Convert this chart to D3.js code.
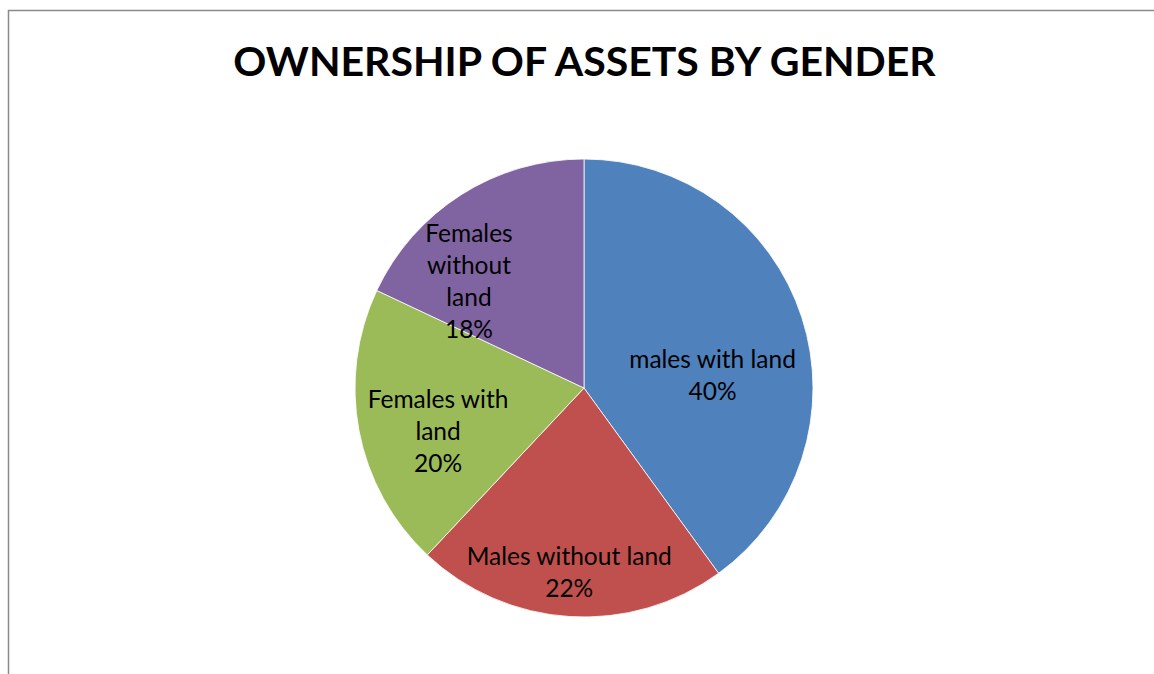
<!DOCTYPE html>
<html>
<head>
<meta charset="utf-8">
<script src="https://cdn.jsdelivr.net/npm/d3@7"></script>
<style>
html,body{margin:0;padding:0;background:#fff;}
svg{display:block;}
</style>
</head>
<body>
<svg id="chart" width="1154" height="674"></svg>
<script>
const title = "OWNERSHIP OF ASSETS BY GENDER";
const categories = ["males with land", "Males without land", "Females with land", "Females without land"];
const values = [40, 22, 20, 18];
const labelLines = [["males with land"], ["Males without land"], ["Females with", "land"], ["Females", "without", "land"]];
const colors = ["#4F81BD", "#C0504D", "#9BBB59", "#8064A2"];

const svg = d3.select("#chart");
const W = 1154, H = 674;

// chart frame
svg.append("rect").attr("x", 8.5).attr("y", 10.5).attr("width", W + 20).attr("height", H + 20)
  .attr("fill", "#fff").attr("stroke", "#8a8a8a").attr("stroke-width", 1.5);

svg.append("text").attr("x", 584.5).attr("y", 76)
  .attr("text-anchor", "middle")
  .attr("font-family", "Lato, 'Open Sans', sans-serif")
  .attr("font-weight", "bold").attr("font-size", 41)
  .attr("fill", "#000").text(title);

const cx = 584, cy = 388, R = 229;
const pie = d3.pie().sort(null).value(d => d);
const arcs = pie(values);
const arc = d3.arc().innerRadius(0).outerRadius(R);
const labelArc = d3.arc().innerRadius(140).outerRadius(140);

const g = svg.append("g").attr("transform", `translate(${cx},${cy})`);
g.selectAll("path").data(arcs).enter().append("path")
  .attr("d", arc).attr("fill", (d, i) => colors[i])
  .attr("stroke", "#fff").attr("stroke-width", 0.8);

// label nudges relative to label-arc centroid (layout, not data)
const nudge = [[-4.6, 39.3], [-6, 53], [-8.4, 25.7], [-40, 20]];
const lineH = 32;
arcs.forEach((a, i) => {
  const c = labelArc.centroid(a);
  const lines = labelLines[i].concat([values[i] + "%"]);
  const x = c[0] + nudge[i][0];
  const yc = c[1] + nudge[i][1];
  const y0 = yc - (lines.length - 1) * lineH / 2;
  const t = g.append("text").attr("text-anchor", "middle")
    .attr("font-family", "Lato, 'Open Sans', sans-serif")
    .attr("font-size", 24.5).attr("fill", "#000");
  lines.forEach((ln, j) => {
    t.append("tspan").attr("x", x).attr("y", y0 + j * lineH).text(ln);
  });
});
</script>
</body>
</html>
